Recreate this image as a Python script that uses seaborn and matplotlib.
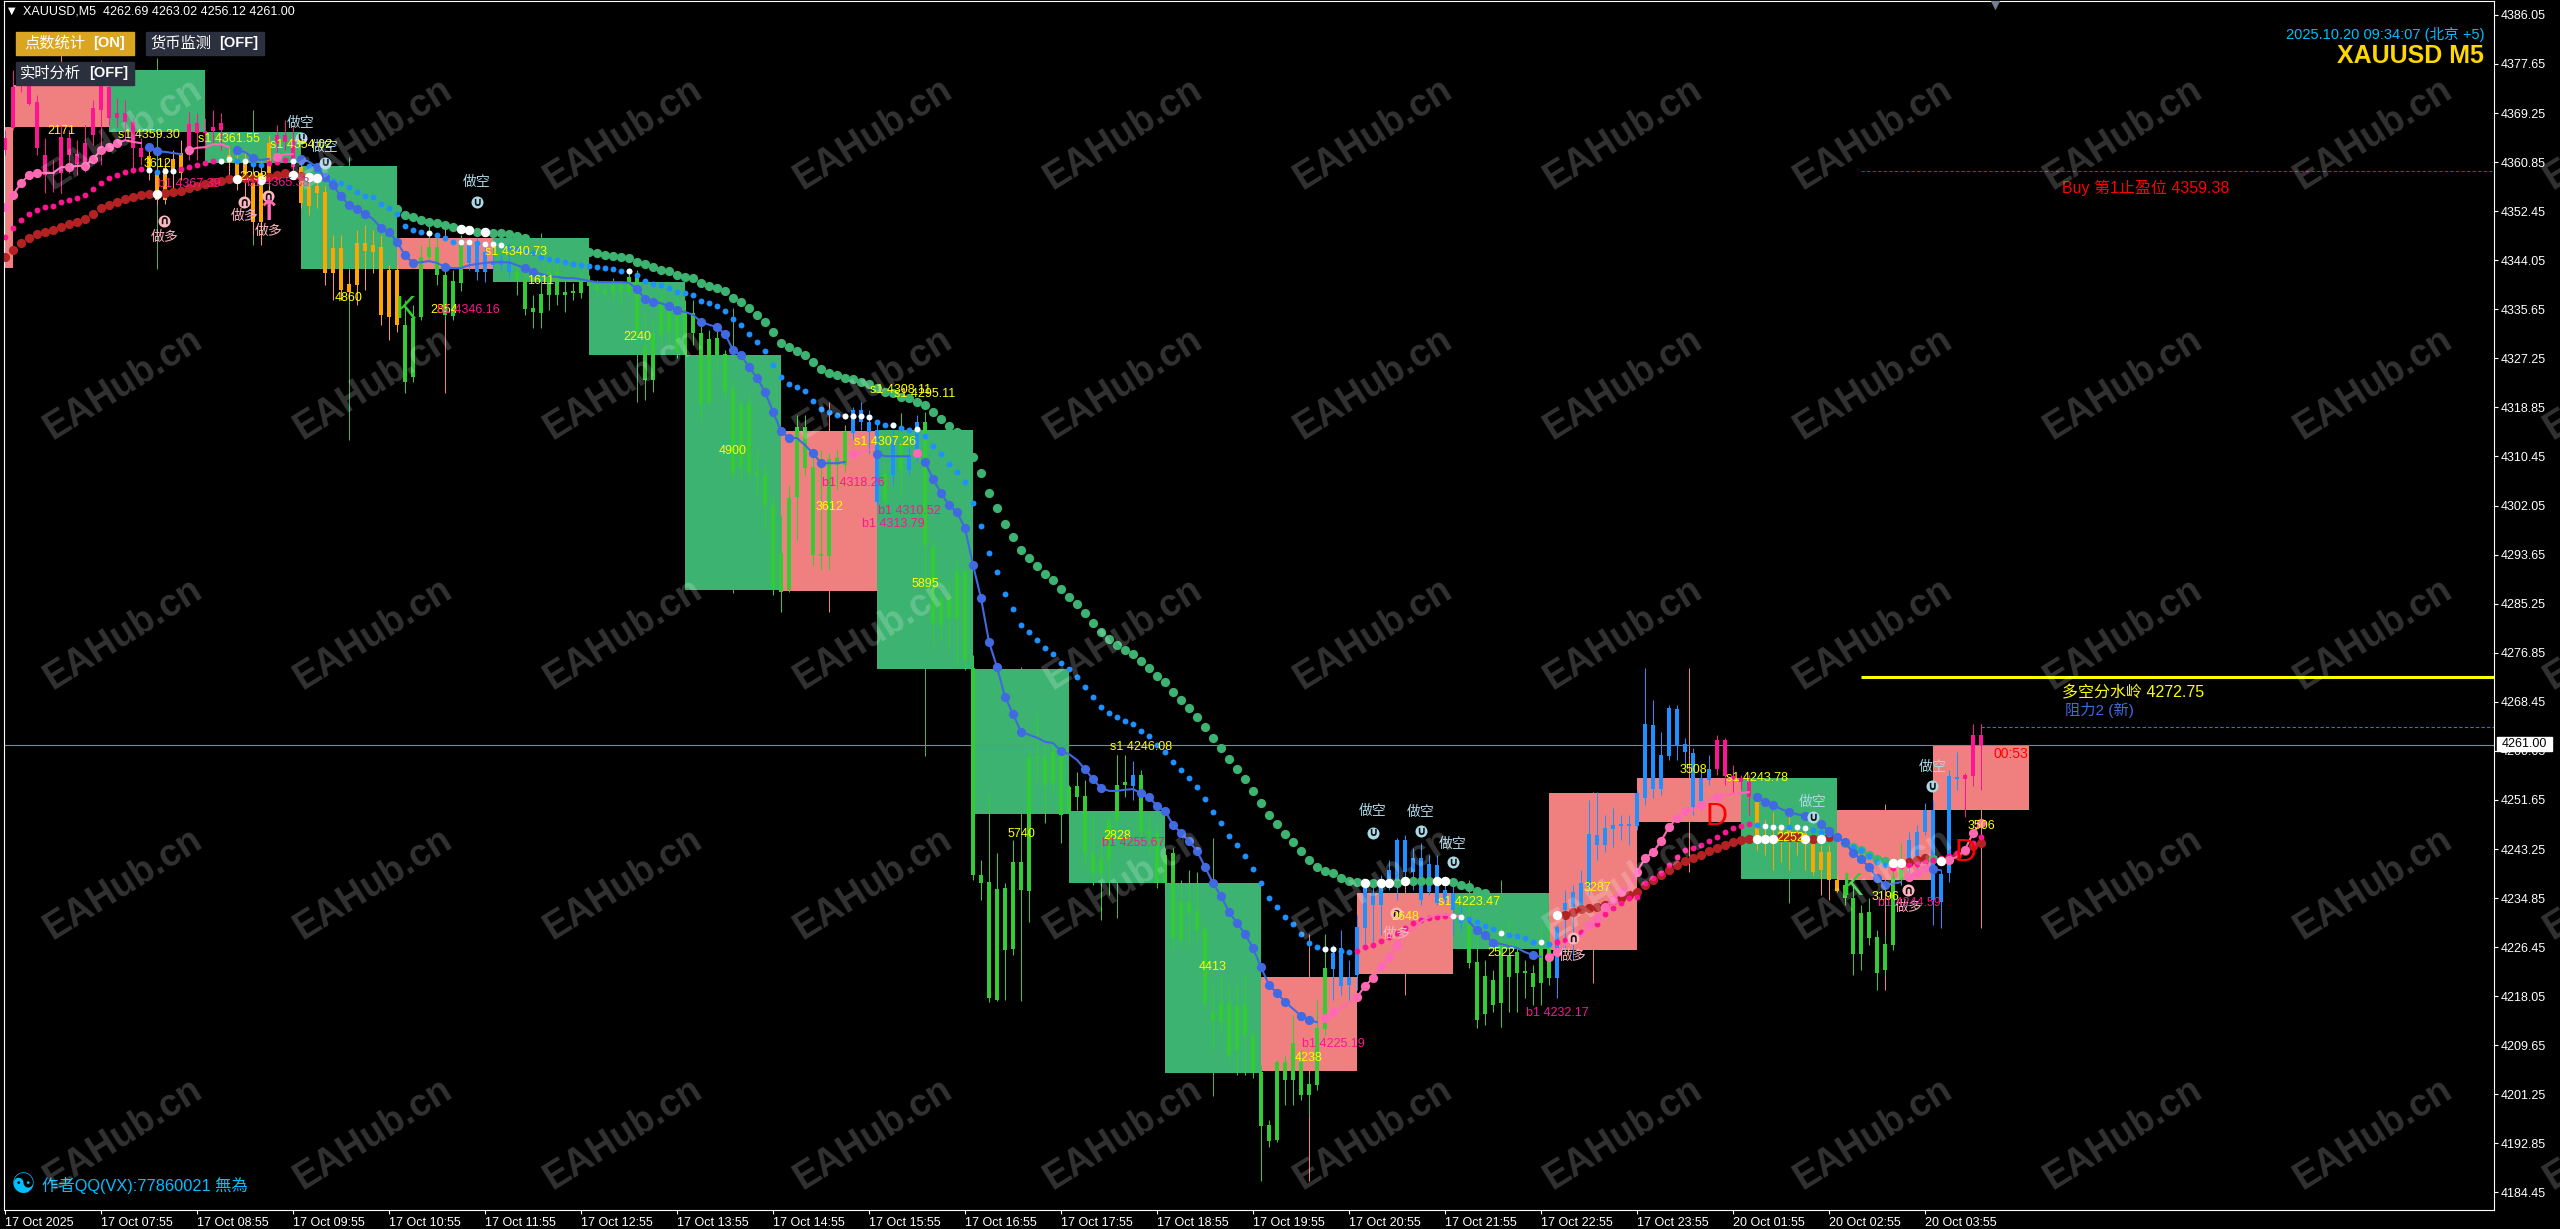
import numpy as np
import matplotlib
matplotlib.use('Agg')
import matplotlib.pyplot as plt
from matplotlib.patches import Rectangle
import seaborn as sns

# candle bodies and wicks, one value per M5 bar
bar_top = [4365.0,4373.7,4375.8,4374.0,4371.1,4362.1,4359.2,4365.1,4365.0,4362.2,
4364.1,4370.1,4374.0,4373.7,4369.3,4369.3,4367.7,4363.3,4361.9,4359.0,
4359.8,4361.4,4362.4,4367.4,4367.5,4366.2,4366.9,4367.5,4362.1,4360.7,
4361.2,4357.3,4359.0,4364.1,4365.5,4365.5,4364.6,4360.0,4356.6,4356.8,
4355.7,4346.1,4346.1,4340.0,4347.0,4347.0,4346.7,4346.3,4342.4,4342.4,
4333.0,4334.2,4344.6,4346.3,4346.3,4341.5,4340.5,4346.7,4346.7,4346.7,
4345.5,4343.7,4344.1,4343.6,4342.0,4340.7,4335.9,4338.3,4342.0,4342.0,
4338.6,4338.6,4340.3,4340.3,4339.8,4338.9,4339.8,4339.8,4341.2,4341.2,
4329.2,4331.6,4336.7,4335.9,4336.4,4335.0,4335.0,4331.6,4330.6,4330.7,
4328.0,4322.0,4319.3,4319.6,4307.8,4307.3,4302.1,4293.9,4303.3,4315.5,
4315.5,4308.6,4293.6,4310.0,4310.2,4314.6,4318.4,4318.4,4316.4,4315.0,
4307.5,4312.8,4312.8,4310.7,4316.4,4316.4,4295.0,4286.2,4286.4,4290.7,
4290.7,4274.2,4238.8,4237.6,4236.4,4236.6,4241.0,4241.0,4258.8,4258.8,
4259.0,4259.9,4259.9,4253.9,4254.0,4252.3,4242.6,4241.5,4248.2,4254.2,
4254.7,4255.9,4255.9,4246.2,4246.0,4242.2,4242.6,4234.2,4234.2,4232.6,
4229.6,4215.2,4216.9,4216.9,4216.4,4216.5,4211.2,4205.1,4196.0,4206.8,
4206.8,4210.0,4206.8,4203.0,4212.6,4222.9,4225.4,4226.3,4221.3,4229.9,
4236.6,4235.7,4236.6,4239.7,4244.8,4244.8,4241.7,4241.7,4240.7,4240.5,
4236.2,4235.7,4232.0,4230.2,4223.9,4221.5,4220.8,4227.2,4225.1,4225.6,
4222.2,4222.0,4226.3,4226.3,4229.9,4234.0,4235.9,4237.4,4245.8,4245.6,
4246.8,4247.4,4247.5,4247.5,4252.8,4264.7,4264.5,4259.3,4267.4,4267.2,
4261.2,4259.7,4255.4,4256.9,4261.9,4261.9,4255.7,4255.4,4254.7,4251.3,
4245.3,4245.6,4246.5,4246.5,4246.2,4246.0,4244.1,4242.7,4242.7,4237.9,
4237.1,4234.9,4232.3,4232.5,4228.2,4227.0,4238.5,4240.0,4244.8,4246.2,
4249.9,4249.9,4239.0,4255.7,4255.6,4255.9,4262.8,4262.8]
bar_bottom = [4362.9,4366.7,4374.0,4370.8,4363.3,4358.6,4358.8,4359.0,4362.1,4360.5,
4360.0,4365.5,4369.8,4368.4,4368.4,4367.7,4363.3,4361.7,4359.0,4354.4,
4354.4,4359.0,4359.0,4362.1,4365.8,4365.8,4366.2,4366.3,4360.7,4358.6,
4358.3,4350.6,4350.6,4359.0,4364.1,4364.3,4360.0,4353.8,4353.3,4355.6,
4341.9,4341.9,4338.9,4338.6,4339.8,4345.6,4345.5,4334.7,4334.3,4333.0,
4323.2,4324.1,4334.3,4344.6,4341.5,4334.7,4334.5,4340.2,4343.6,4342.0,
4342.0,4343.2,4343.2,4342.0,4340.7,4335.7,4335.2,4335.0,4338.1,4338.1,
4338.1,4338.4,4338.4,4339.6,4338.9,4338.4,4338.4,4338.8,4338.6,4331.6,
4323.5,4323.5,4331.2,4331.8,4328.3,4327.8,4331.6,4319.6,4319.8,4327.8,
4321.7,4307.6,4308.6,4307.6,4307.3,4302.1,4287.6,4287.2,4287.6,4303.5,
4308.5,4293.6,4293.4,4293.4,4309.0,4309.0,4314.5,4316.4,4314.6,4302.7,
4302.8,4307.3,4308.1,4308.1,4310.7,4295.3,4281.9,4281.6,4282.8,4282.8,
4275.6,4238.8,4237.4,4217.7,4217.4,4226.0,4226.1,4236.2,4236.1,4258.7,
4254.2,4254.5,4249.1,4249.6,4252.2,4242.6,4239.1,4239.1,4241.4,4248.2,
4254.2,4254.0,4246.2,4246.0,4237.4,4237.4,4228.0,4227.7,4232.3,4229.4,
4216.9,4214.0,4213.6,4208.0,4208.8,4211.4,4204.9,4195.8,4193.3,4193.4,
4203.7,4203.7,4201.1,4201.1,4202.9,4212.4,4222.7,4219.8,4220.0,4221.7,
4229.7,4233.7,4233.7,4237.6,4237.1,4239.3,4239.3,4234.5,4235.9,4234.0,
4234.5,4232.8,4230.6,4223.7,4214.0,4215.0,4216.5,4216.9,4221.3,4222.0,
4222.0,4219.6,4220.3,4221.2,4221.2,4232.8,4233.3,4233.7,4236.6,4243.9,
4243.9,4246.7,4247.2,4247.2,4247.2,4252.0,4253.5,4253.5,4259.2,4260.9,
4259.9,4250.4,4251.1,4255.1,4256.9,4255.7,4255.2,4254.7,4252.2,4245.3,
4244.4,4244.4,4244.4,4245.3,4244.4,4244.3,4239.3,4239.6,4237.9,4236.1,
4234.9,4225.3,4225.3,4228.0,4222.0,4222.5,4226.8,4237.9,4240.8,4241.9,
4246.2,4234.5,4234.2,4239.1,4255.2,4255.2,4255.7,4261.0]
bar_high = [4366.3,4376.6,4376.6,4375.8,4372.3,4365.0,4361.2,4367.2,4366.3,4364.6,
4367.2,4371.5,4378.3,4375.8,4371.8,4371.5,4368.4,4365.0,4362.9,4360.4,
4361.2,4362.9,4364.6,4369.4,4369.3,4368.4,4369.8,4369.3,4363.3,4362.9,
4362.9,4359.5,4361.2,4365.5,4367.2,4368.1,4367.2,4362.1,4358.6,4358.6,
4356.9,4348.4,4348.4,4342.4,4349.2,4350.1,4349.2,4348.4,4343.2,4343.2,
4337.2,4336.4,4346.7,4350.1,4348.4,4343.2,4342.4,4348.4,4347.5,4347.9,
4346.7,4344.9,4344.9,4344.9,4343.6,4342.0,4338.1,4339.8,4343.2,4343.7,
4341.2,4340.1,4341.9,4341.5,4340.7,4340.3,4341.0,4340.3,4342.4,4342.4,
4335.0,4333.8,4338.9,4337.2,4338.1,4337.2,4337.2,4333.0,4332.1,4332.1,
4328.7,4323.5,4320.1,4321.0,4311.6,4309.0,4303.9,4300.4,4305.6,4317.6,
4317.6,4310.7,4311.6,4311.0,4311.6,4315.8,4318.9,4319.8,4318.4,4316.7,
4309.0,4315.0,4317.9,4312.1,4317.6,4318.1,4296.2,4287.6,4289.3,4292.7,
4291.9,4276.5,4241.4,4252.8,4242.6,4237.4,4244.8,4242.2,4260.2,4266.5,
4261.1,4261.9,4261.1,4254.2,4256.4,4255.1,4249.1,4245.6,4249.1,4259.3,
4259.3,4258.3,4256.8,4249.4,4247.4,4243.4,4243.4,4237.9,4239.7,4239.3,
4230.2,4220.0,4221.7,4220.0,4220.0,4221.7,4212.3,4206.3,4196.9,4207.1,
4208.0,4214.8,4208.8,4204.6,4217.4,4228.7,4226.8,4229.4,4224.2,4232.0,
4237.6,4237.1,4238.8,4241.4,4245.1,4245.6,4243.4,4244.3,4242.2,4242.2,
4237.1,4237.9,4233.7,4237.9,4229.4,4224.2,4222.5,4230.2,4231.1,4228.5,
4224.2,4223.4,4230.2,4231.1,4230.2,4236.2,4237.1,4239.7,4251.6,4253.0,
4249.1,4250.3,4249.1,4249.1,4253.4,4274.2,4268.8,4263.3,4267.9,4267.9,
4262.3,4260.5,4256.8,4259.3,4262.8,4262.3,4257.6,4255.9,4255.9,4252.5,
4248.2,4249.6,4247.4,4249.1,4247.4,4246.5,4244.8,4243.9,4243.9,4238.8,
4238.3,4237.1,4233.7,4234.9,4229.4,4228.5,4241.7,4244.3,4246.2,4247.4,
4251.1,4251.6,4239.7,4256.8,4259.9,4256.3,4264.7,4264.7]
bar_low = [4362.1,4366.3,4372.8,4370.6,4362.1,4355.6,4355.7,4355.6,4359.0,4358.6,
4359.2,4363.8,4360.4,4367.2,4366.9,4364.6,4359.0,4360.4,4357.8,4353.5,
4353.7,4356.1,4357.8,4361.2,4361.2,4362.9,4364.1,4362.9,4358.6,4356.1,
4354.4,4348.4,4346.7,4356.1,4360.4,4362.9,4358.6,4353.0,4351.8,4353.0,
4339.8,4337.2,4337.2,4337.2,4336.4,4338.9,4341.9,4333.0,4330.4,4331.8,
4321.3,4323.2,4333.8,4343.7,4339.8,4333.8,4333.8,4338.8,4342.4,4340.7,
4340.3,4342.4,4342.4,4341.0,4338.1,4334.7,4332.4,4332.6,4335.5,4336.4,
4335.2,4337.2,4337.6,4338.9,4338.1,4337.9,4337.2,4336.4,4337.8,4329.5,
4320.1,4321.5,4329.5,4329.5,4327.3,4326.9,4329.5,4316.7,4319.3,4324.9,
4320.1,4306.4,4306.4,4306.4,4303.9,4297.9,4286.7,4283.8,4287.2,4296.2,
4307.3,4291.9,4291.0,4291.0,4304.7,4307.8,4313.3,4315.0,4311.0,4302.1,
4302.1,4305.6,4303.9,4307.3,4309.5,4287.6,4278.2,4279.0,4277.3,4274.7,
4273.9,4237.9,4234.5,4217.1,4217.2,4217.4,4225.1,4217.4,4230.8,4254.7,
4247.7,4252.5,4244.3,4248.6,4249.9,4240.2,4237.1,4231.1,4235.4,4247.4,
4252.2,4251.6,4244.8,4242.6,4236.6,4236.6,4226.3,4226.8,4226.6,4227.7,
4215.7,4208.8,4211.4,4207.1,4204.6,4204.6,4204.0,4186.4,4192.2,4193.1,
4199.4,4199.4,4200.3,4197.7,4202.0,4211.4,4217.4,4218.2,4217.4,4219.1,
4226.0,4226.3,4228.5,4236.2,4234.5,4237.1,4236.2,4233.7,4235.4,4233.7,
4233.7,4228.5,4229.4,4222.9,4212.6,4213.1,4215.3,4212.8,4215.3,4215.3,
4217.7,4216.5,4216.5,4220.0,4217.7,4226.0,4224.2,4232.8,4235.4,4241.4,
4242.7,4243.6,4244.8,4243.9,4246.5,4250.8,4252.0,4252.5,4258.5,4258.5,
4257.1,4249.1,4249.9,4254.2,4255.9,4254.2,4252.8,4253.4,4249.1,4243.1,
4242.2,4239.7,4241.0,4239.7,4242.2,4239.7,4238.8,4235.4,4234.5,4235.9,
4233.7,4221.7,4222.5,4226.8,4219.1,4221.7,4226.0,4237.1,4238.8,4239.7,
4245.6,4230.2,4229.7,4237.6,4253.4,4248.7,4254.0,4253.4]

# the three trend lines, also one value per bar
slow_line = [4344.6,4345.8,4347.0,4347.9,4348.5,4348.9,4349.2,4349.7,4350.3,4350.6,
4351.1,4352.0,4353.0,4353.5,4354.0,4354.5,4354.9,4355.2,4355.4,4355.4,
4355.6,4355.7,4355.9,4356.4,4356.8,4357.1,4357.4,4357.6,4358.0,4358.0,
4358.1,4358.1,4357.8,4358.3,4358.6,4359.0,4358.6,4358.5,4358.3,4358.1,
4357.6,4357.1,4356.6,4356.1,4355.6,4355.0,4354.5,4354.0,4353.5,4352.8,
4351.8,4351.4,4350.9,4350.6,4350.4,4350.1,4349.7,4349.4,4349.2,4348.9,
4348.9,4348.7,4348.7,4348.5,4348.2,4347.9,4347.2,4346.8,4346.5,4346.3,
4346.1,4346.0,4345.8,4345.5,4345.3,4344.9,4344.8,4344.6,4344.4,4343.7,
4343.4,4342.9,4342.4,4342.2,4341.5,4341.2,4341.0,4340.2,4339.6,4339.3,
4338.8,4337.6,4336.9,4335.9,4334.7,4333.5,4331.8,4329.9,4329.2,4328.5,
4327.8,4326.6,4325.4,4324.7,4324.4,4323.9,4323.7,4323.2,4322.9,4322.2,
4321.5,4321.3,4320.6,4320.5,4319.8,4319.3,4318.1,4316.9,4315.7,4314.6,
4313.3,4310.4,4307.6,4304.2,4301.6,4298.9,4296.7,4294.4,4293.1,4291.7,
4290.3,4289.3,4287.8,4286.4,4285.2,4283.7,4281.9,4280.4,4279.2,4278.2,
4277.3,4276.6,4275.4,4274.2,4272.9,4271.8,4270.1,4268.8,4267.4,4265.8,
4264.1,4262.3,4260.5,4258.7,4256.9,4255.2,4253.2,4251.1,4249.1,4247.5,
4245.8,4244.4,4242.9,4241.4,4240.2,4239.5,4239.1,4238.3,4237.8,4237.6,
4237.4,4237.4,4237.4,4237.4,4237.4,4237.8,4237.8,4237.8,4237.8,4237.8,
4237.8,4237.6,4237.1,4236.7,4236.1,4235.7,np.nan,np.nan,np.nan,np.nan,
np.nan,np.nan,np.nan,np.nan,4232.0,4232.0,4232.5,4233.0,4233.2,4233.3,
4233.7,4234.5,4234.9,4235.4,4235.9,4237.1,4237.9,4238.8,4239.6,4240.5,
4241.2,4241.7,4242.2,4242.9,4243.4,4243.9,4244.4,4244.8,4245.0,4245.0,
4245.0,4245.0,4245.3,4245.3,4245.3,4245.0,4245.0,4245.0,4245.3,4245.3,
4244.3,4243.6,4243.1,4242.2,4241.5,4241.2,4240.9,4240.9,4241.0,4241.4,
4241.7,4241.5,4241.2,4241.7,4242.2,4242.9,4243.8,4244.3]
mid_line = [4348.0,4349.6,4350.9,4352.0,4352.6,4353.2,4353.3,4354.0,4354.4,4354.7,
4355.2,4356.2,4357.3,4358.1,4358.6,4359.2,4359.5,4359.7,4359.5,4359.2,
4359.3,4359.3,4359.7,4360.0,4360.4,4360.7,4361.0,4361.0,4361.4,4361.0,
4361.0,4360.5,4360.4,4360.7,4360.9,4361.2,4361.0,4360.9,4360.2,4359.5,
4358.6,4357.6,4357.3,4356.6,4355.7,4355.0,4354.9,4353.7,4353.0,4352.0,
4349.9,4349.2,4348.9,4348.7,4348.4,4347.9,4347.2,4347.2,4347.2,4347.0,
4346.8,4346.8,4346.7,4346.3,4346.0,4345.5,4345.3,4344.6,4344.3,4344.1,
4343.7,4343.4,4343.2,4343.1,4342.9,4342.7,4342.5,4342.2,4342.2,4341.5,
4340.5,4340.0,4339.8,4339.3,4338.6,4338.4,4338.1,4337.1,4336.7,4336.2,
4335.4,4334.0,4333.0,4331.4,4330.0,4328.5,4326.1,4324.1,4322.9,4322.3,
4321.7,4320.0,4318.6,4318.1,4317.6,4317.4,4317.4,4317.4,4317.2,4316.4,
4315.8,4315.8,4315.3,4315.0,4315.2,4314.0,4312.2,4310.9,4309.2,4307.8,
4306.1,4302.5,4298.5,4293.9,4290.7,4286.9,4284.3,4281.6,4280.4,4279.0,
4277.7,4276.6,4275.1,4274.1,4272.7,4271.0,4269.3,4267.6,4266.5,4265.8,
4265.2,4264.7,4263.4,4262.6,4261.0,4259.9,4258.1,4256.8,4255.4,4253.9,
4251.8,4249.6,4247.7,4245.5,4243.9,4242.1,4239.8,4237.4,4234.9,4233.3,
4231.6,4230.4,4228.7,4227.2,4226.5,4226.1,4226.1,4225.8,4225.6,4225.8,
4226.5,4226.8,4227.5,4228.2,4228.9,4229.7,4230.6,4231.1,4231.4,4231.6,
4231.8,4231.8,4231.6,4231.3,4230.8,4230.1,4229.6,4228.9,4228.5,4228.4,
4228.0,4227.3,4227.3,4227.0,4227.3,4227.7,4228.2,4229.0,4230.2,4230.4,
4232.1,4233.2,4234.0,4234.9,4235.0,4237.4,4238.3,4239.1,4240.5,4241.9,
4243.1,4243.4,4243.9,4244.6,4245.3,4246.2,4246.8,4247.2,4247.5,4247.4,
4247.2,4247.0,4247.0,4247.0,4247.0,4246.8,4246.5,4246.2,4245.8,4245.1,
4244.3,4243.6,4243.1,4242.1,4241.0,4240.5,4240.0,4240.3,4240.5,4240.7,
4241.0,4241.4,4241.7,4242.1,4242.6,4243.1,4244.3,4245.3]
fast_line = [4353.2,4355.2,4357.3,4358.6,4359.0,4359.0,4359.0,4360.0,4360.0,4360.2,
4360.2,4361.4,4362.9,4363.4,4364.1,4364.6,4364.3,4364.1,4363.4,4362.7,
4362.6,4362.4,4362.2,4362.9,4363.3,4363.4,4363.9,4363.9,4363.4,4362.9,
4362.6,4361.5,4361.2,4361.4,4361.7,4362.2,4362.2,4361.4,4360.9,4360.0,
4358.3,4356.9,4355.0,4353.5,4352.8,4352.0,4351.1,4349.6,4348.9,4347.2,
4344.9,4343.6,4343.7,4343.9,4343.6,4342.9,4342.7,4342.7,4343.2,4343.4,
4343.6,4343.7,4343.7,4343.7,4343.2,4342.7,4342.0,4341.7,4341.3,4341.2,
4341.0,4341.0,4340.8,4340.5,4340.3,4340.3,4340.3,4340.3,4340.2,4339.1,
4337.4,4336.9,4336.7,4336.2,4335.5,4335.2,4334.7,4333.5,4333.0,4332.6,
4331.4,4328.7,4327.8,4325.8,4323.9,4321.5,4318.1,4314.8,4313.6,4313.6,
4312.4,4311.0,4309.3,4309.3,4309.3,4309.5,4310.9,4311.2,4311.6,4310.9,
4310.5,4310.5,4310.5,4310.5,4311.0,4309.5,4306.6,4304.2,4302.1,4300.9,
4298.2,4291.9,4286.2,4278.7,4274.4,4269.3,4266.4,4263.3,4262.8,4262.3,
4261.6,4261.4,4260.0,4259.5,4258.5,4256.9,4255.2,4253.7,4253.2,4253.2,
4253.4,4253.5,4252.8,4252.2,4250.6,4249.8,4247.4,4246.0,4244.6,4242.9,
4240.2,4237.4,4235.2,4232.5,4230.6,4228.7,4226.3,4223.0,4220.0,4218.6,
4217.1,4215.9,4214.7,4214.0,4213.6,4214.3,4215.3,4216.0,4216.9,4217.9,
4219.8,4221.2,4223.2,4224.8,4226.8,4228.9,4229.4,4230.8,4231.6,4232.0,
4232.0,4231.8,4231.8,4230.8,4229.4,4228.5,4227.2,4227.0,4226.6,4226.3,
4225.6,4225.1,4224.8,4224.8,4225.6,4226.8,4228.2,4228.2,4230.2,4231.4,
4233.3,4234.5,4235.9,4236.6,4239.3,4241.7,4242.7,4244.6,4247.0,4248.6,
4249.8,4249.9,4250.8,4251.6,4252.2,4252.5,4252.7,4252.8,4253.0,4252.2,
4251.3,4250.8,4250.1,4249.6,4249.2,4248.9,4248.6,4247.5,4246.3,4245.3,
4244.4,4242.6,4241.5,4240.2,4238.3,4237.1,4237.3,4237.6,4238.5,4239.1,
4240.0,4239.8,4239.6,4241.4,4241.9,4243.1,4246.0,4247.7]

# trend runs: first bar, last bar, colour key
candle_runs = [(0,17,'pink'),(18,22,'orange'),(23,27,'pink'),(28,33,'orange'),(34,36,'pink'),
    (37,49,'orange'),(50,57,'green'),(58,63,'blue'),(64,105,'green'),(106,109,'blue'),(110,110,'green'),
    (111,111,'blue'),(112,112,'green'),(113,114,'blue'),(115,140,'green'),(141,141,'blue'),(142,165,'green'),
    (166,182,'blue'),(183,193,'green'),(194,213,'blue'),(214,218,'pink'),(219,229,'orange'),(230,237,'green'),
    (238,244,'blue'),(245,247,'pink')]
slow_runs = [(0,37,'red'),(38,185,'green'),(194,228,'red'),(229,237,'green'),(238,240,'red'),(241,241,'green'),(242,247,'red')]
mid_runs = [(0,17,'pink'),(18,21,'blue'),(22,26,'pink'),(27,32,'blue'),(33,35,'pink'),(36,168,'blue'),
    (169,181,'pink'),(182,193,'blue'),(194,218,'pink'),(219,235,'blue'),(236,247,'pink')]
fast_runs = [(0,17,'pink'),(18,22,'blue'),(23,28,'pink'),(29,33,'blue'),(34,36,'pink'),(37,105,'blue'),
    (106,108,'pink'),(109,113,'blue'),(114,114,'pink'),(115,164,'blue'),(165,182,'pink'),(183,192,'blue'),
    (193,218,'pink'),(219,237,'blue'),(238,240,'pink'),(241,242,'blue'),(243,247,'pink')]
fast_dot_bars = [0,1,2,3,4,8,10,11,12,13,14,18,19,23,29,31,34,37,39,40,41,42,43,44,45,47,48,49,50,51,55,65,66,
    79,80,81,83,84,87,89,90,91,92,93,94,95,96,97,98,101,102,106,109,114,115,116,117,118,119,120,121,122,123,124,
    125,126,127,132,135,136,137,142,143,144,145,146,147,148,149,150,151,152,153,154,155,156,157,158,159,160,162,163,
    165,166,169,170,171,172,173,174,184,185,186,191,193,194,196,198,199,200,201,202,204,205,206,207,208,209,210,212,214,
    219,220,221,223,225,227,228,229,230,231,232,233,234,235,238,239,240,241,243,245,246,247]
white_slow_bars = [19,29,32,36,38,39,57,58,60,170,172,173,175,179,180,194,219,220,221,225,227,236,237,242]
white_mid_bars = [18,20,21,27,28,30,36,53,57,58,60,61,62,78,105,106,107,108,111,114,165,166,181,182,187,192,220,221,222,224,225]

# hourly boxes
box_edges = [-11,1,13,25,37,49,61,73,85,97,109,121,133,145,157,169,181,193,204,217,229,241,253]
box_top = [4366.9,4374.0,4376.6,4366.0,4360.2,4347.9,4347.9,4340.3,4327.8,4314.8,4315.0,4274.1,4249.8,4237.4,4221.3,4235.7,4235.7,4252.8,4255.4,4255.4,4249.9,4261.0]
box_bottom = [4342.7,4366.9,4366.0,4360.7,4342.5,4342.5,4340.3,4327.8,4287.6,4287.4,4274.1,4249.2,4237.4,4204.9,4205.2,4221.9,4226.1,4226.0,4247.9,4238.1,4237.9,4249.9]
box_high = [4366.9,4380.0,4378.7,4369.8,4361.7,4349.7,4348.7,4341.2,4335.9,4319.8,4317.9,4274.4,4259.3,4245.1,4228.7,4244.8,4237.9,4253.0,4274.2,4249.4,4251.0,4264.7]
box_low = [4342.7,4355.6,4342.5,4346.7,4313.3,4321.3,4332.4,4319.8,4287.1,4283.8,4259.2,4217.2,4231.4,4201.0,4186.4,4218.3,4212.8,4220.3,4239.3,4234.0,4219.1,4229.7]
box_kind = ['pink','pink','green','green','green','pink','green','green','green','pink','green','green','green','green','pink','pink','green','pink','pink','green','pink','pink']

# labels on the chart: text, bar, price
volume_labels = [('2171',7,4366.2),('3612',19,4360.5),('2298',31,4358.3),('4860',43,4337.6),('2854',54.9,4335.5),('1611',67,4340.5),
    ('2240',79,4330.9),('4900',91,4311.4),('3612',103,4301.8),('5895',115,4288.6),('5740',127,4245.8),('2828',139,4245.5),('4413',151,4223.0),
    ('4238',163,4207.5),('2648',175,4231.6),('2522',187,4225.4),('3287',199,4236.6),('3508',211,4256.8),('2252',223.1,4245.1),('3196',235,4235.0),('3506',247,4247.2)]
s1_labels = [('s1 4359.30',18,4365.5),('s1 4361.55',28,4364.8),('s1 4354.02',37,4363.8),('s1 4340.73',63.9,4345.5),('s1 4308.11',112,4321.8),
    ('s1 4295.11',115,4321.1),('s1 4307.26',110,4312.9),('s1 4246.08',142,4260.7),('s1 4223.47',183,4234.2),('s1 4243.78',219,4255.4)]
b1_labels = [('b1 4367.39',23.1,4357.1),('b1 4365.38',34.1,4357.3),('b1 4346.16',57.9,4335.5),('b1 4318.26',106,4305.9),('b1 4310.52',113,4301.1),
    ('b1 4313.79',111,4298.9),('b1 4255.67',141,4244.3),('b1 4225.19',166,4209.9),('b1 4232.17',194,4215.2),('b1 4244.59',238,4234.0)]
short_bars = [37,40,59,171,177,181,226,240.9]
short_text_price = [4367.5,4363.4,4357.4,4249.8,4249.6,4244.1,4251.3,4257.3]
short_icon_price = [4365.0,4360.7,4354.0,4246.0,4246.3,4241.0,4248.7,4254.0]
long_bars = [19.9,29.9,32.9,173.9,196,237.9]
long_text_price = [4348.0,4351.6,4349.1,4228.7,4224.9,4233.3]
long_icon_price = [4350.8,4354.0,4355.0,4232.3,4228.0,4236.2]
k_marks = [(50.1,4335.5),(231,4236.7)]
d_marks = [(213.9,4248.7),(245.1,4242.6)]

price_ticks = [4386.05,4377.65,4369.25,4360.85,4352.45,4344.05,4335.65,4327.25,4318.85,4310.45,4302.05,4293.65,4285.25,
    4276.85,4268.45,4260.05,4251.65,4243.25,4234.85,4226.45,4218.05,4209.65,4201.25,4192.85,4184.45]
time_ticks = [0,12,24,36,48,60,72,84,96,108,120,132,144,156,168,180,192,204,216,228,240]
time_labels = ['17 Oct 2025','17 Oct 07:55','17 Oct 08:55','17 Oct 09:55','17 Oct 10:55','17 Oct 11:55','17 Oct 12:55','17 Oct 13:55',
    '17 Oct 14:55','17 Oct 15:55','17 Oct 16:55','17 Oct 17:55','17 Oct 18:55','17 Oct 19:55','17 Oct 20:55','17 Oct 21:55','17 Oct 22:55',
    '17 Oct 23:55','20 Oct 01:55','20 Oct 02:55','20 Oct 03:55']

watermark_x = [123,373,623,873,1123,1373,1623,1873,2123,2373,2623]
watermark_y = [134,384,634,884,1134]

candle_colors = {'pink':'#FF1493','orange':'#FFA500','green':'#32CD32','blue':'#1E90FF'}
box_colors = {'pink':'#F08080','green':'#3CB371'}
slow_colors = {'red':'#B22222','green':'#3CB371'}
mid_colors = {'pink':'#FF1493','blue':'#1E90FF'}
fast_colors = {'pink':'#FF69B4','blue':'#4169E1'}

W, H = 2560, 1229
sns.set_theme(style='dark', rc={'axes.facecolor':'black','figure.facecolor':'black','text.color':'white',
    'xtick.color':'white','ytick.color':'white','axes.edgecolor':'white'})
plt.rcParams['font.family'] = ['Liberation Sans','Noto Sans CJK SC','DejaVu Sans']

fig = plt.figure(figsize=(W/100, H/100), dpi=100)
ax = fig.add_axes([4/W, (H-1210)/H, 2490/W, 1209/H])

def fx(px):
    return px/W

def fy(py):
    return 1-py/H

def color_of(bar, runs):
    for start, end, key in runs:
        if start <= bar <= end:
            return key
    return None

# boxes and their high-low lines
for n in range(len(box_top)):
    left = box_edges[n]
    width = box_edges[n+1]-left
    col = box_colors[box_kind[n]]
    ax.bar(left, box_top[n]-box_bottom[n], bottom=box_bottom[n], width=width, align='edge', color=col, linewidth=0, zorder=1, antialiased=False)
    ax.vlines(left+width/2, box_low[n], box_high[n], colors=col, linewidth=0.72, zorder=2)

# candles
bars = np.arange(len(bar_top))
top = np.array(bar_top)
bottom = np.array(bar_bottom)
for start, end, key in candle_runs:
    idx = bars[start:end+1]
    col = candle_colors[key]
    ax.vlines(idx, np.array(bar_low)[idx], np.array(bar_high)[idx], colors=col, linewidth=0.72, zorder=3)
    ax.bar(idx, np.maximum(top[idx]-bottom[idx], 0.35), bottom=bottom[idx], width=0.62, color=col, linewidth=0, zorder=3, antialiased=False)

slow = np.array(slow_line)
mid = np.array(mid_line)
fast = np.array(fast_line)

# trend dots
for start, end, key in slow_runs:
    idx = bars[start:end+1]
    sns.scatterplot(x=idx, y=slow[idx], s=44, color=slow_colors[key], linewidth=0, ax=ax, zorder=4, legend=False)
for start, end, key in mid_runs:
    idx = bars[start:end+1]
    sns.scatterplot(x=idx, y=mid[idx], s=18, color=mid_colors[key], linewidth=0, ax=ax, zorder=5, legend=False)

# fast line with its bigger dots
for start, end, key in fast_runs:
    idx = bars[start:end+1]
    sns.lineplot(x=idx, y=fast[idx], color=fast_colors[key], linewidth=1.5, errorbar=None, ax=ax, zorder=6, legend=False)
for key in fast_colors:
    idx = [b for b in fast_dot_bars if color_of(b, fast_runs) == key]
    sns.scatterplot(x=idx, y=fast[idx], s=44, color=fast_colors[key], linewidth=0, ax=ax, zorder=7, legend=False)

sns.scatterplot(x=white_slow_bars, y=slow[white_slow_bars], s=46, color='white', linewidth=0, ax=ax, zorder=8, legend=False)
sns.scatterplot(x=white_mid_bars, y=mid[white_mid_bars], s=18, color='white', linewidth=0, ax=ax, zorder=8, legend=False)

# level lines
ax.axhline(4261.00, color='#778899', linewidth=0.8, zorder=2)
ax.hlines(4359.38, 232, 311.2, colors='red', linewidth=0.8, linestyles=(0, (3, 2)), zorder=2)
ax.hlines(4272.75, 232, 311.2, colors='yellow', linewidth=2.2, zorder=2)
ax.hlines(4264.1, 247, 311.2, colors='#4169E1', linewidth=0.8, linestyles=(0, (3, 2)), zorder=2)
sns.scatterplot(x=[248.75], y=[4388.0], marker='v', s=70, color='#708090', linewidth=0, ax=ax, zorder=8, legend=False)

# signal icons
sns.scatterplot(x=short_bars, y=short_icon_price, s=75, color='#ADD8E6', linewidth=0, ax=ax, zorder=9, legend=False)
sns.scatterplot(x=long_bars, y=long_icon_price, s=75, color='#FFB6C1', linewidth=0, ax=ax, zorder=9, legend=False)
for b, p in zip(short_bars, short_icon_price):
    ax.text(b, p, '∪', color='#111111', fontsize=8.5, fontweight='bold', family='DejaVu Sans', ha='center', va='center', zorder=10)
for b, p in zip(long_bars, long_icon_price):
    ax.text(b, p, '∩', color='#111111', fontsize=8.5, fontweight='bold', family='DejaVu Sans', ha='center', va='center', zorder=10)
ax.text(32.9, 4352.3, '↑', color='#FF69B4', fontsize=21, fontweight='bold', family='DejaVu Sans', ha='center', va='center', zorder=9)

for b, p in zip(short_bars, short_text_price):
    ax.text(b, p, '做空', color='#ADD8E6', fontsize=10, ha='center', va='center', zorder=10)
for b, p in zip(long_bars, long_text_price):
    ax.text(b, p, '做多', color='#FFB6C1', fontsize=10, ha='center', va='center', zorder=10)
for txt, b, p in volume_labels + s1_labels:
    ax.text(b, p, txt, color='yellow', fontsize=9, ha='center', va='center', zorder=11)
for txt, b, p in b1_labels:
    ax.text(b, p, txt, color='#FF1493', fontsize=9, ha='center', va='center', zorder=11)
for b, p in k_marks:
    ax.text(b, p, 'K', color='#32CD32', fontsize=22, ha='center', va='center', zorder=10)
for b, p in d_marks:
    ax.text(b, p, 'D', color='red', fontsize=22, ha='center', va='center', zorder=10)

ax.text(257.1, 4356.4, 'Buy 第1止盈位 4359.38', color='red', fontsize=11.5, ha='left', va='center', zorder=11)
ax.text(257.1, 4270.0, '多空分水岭 4272.75', color='yellow', fontsize=11.5, ha='left', va='center', zorder=11)
ax.text(257.5, 4267.0, '阻力2 (新)', color='#4169E1', fontsize=11, ha='left', va='center', zorder=11)
ax.text(250.75, 4259.5, '00:53', color='red', fontsize=10, ha='center', va='center', zorder=11)

# axes, right price scale and bottom time scale
ax.set_xlim(-0.125, 311.125)
ax.set_ylim(4181.45, 4388.43)
ax.set_xlabel('')
ax.set_ylabel('')
ax.grid(False)
for side in ['left','right','top','bottom']:
    ax.spines[side].set_visible(True)
    ax.spines[side].set_color('white')
    ax.spines[side].set_linewidth(0.8)
ax.yaxis.tick_right()
ax.set_yticks(price_ticks)
ax.set_yticklabels([f'{p:.2f}' for p in price_ticks], fontsize=9)
ax.set_xticks(time_ticks)
ax.set_xticklabels(time_labels, fontsize=9, ha='left')
ax.tick_params(axis='both', length=3, width=0.8, color='white', pad=2, bottom=True, right=True)

# current price tag
fig.add_artist(Rectangle((fx(2497), fy(751)), 55/W, 14/H, transform=fig.transFigure, color='white', zorder=4))
fig.text(fx(2524), fy(744), '4261.00', color='black', fontsize=9, ha='center', va='center', zorder=5)

# header and terminal panels
fig.text(fx(12), fy(11), '▼', color='white', fontsize=7, family='DejaVu Sans', ha='center', va='center', zorder=5)
fig.text(fx(23), fy(11), 'XAUUSD,M5  4262.69 4263.02 4256.12 4261.00', color='white', fontsize=9, ha='left', va='center', zorder=5)
fig.text(fx(2484), fy(35), '2025.10.20 09:34:07 (北京 +5)', color='#00BFFF', fontsize=10.5, ha='right', va='center', zorder=5)
fig.text(fx(2484), fy(56), 'XAUUSD M5', color='#FFD700', fontsize=18, fontweight='bold', ha='right', va='center', zorder=5)
fig.text(fx(23), fy(1185), '☯', color='#00BFFF', fontsize=20, family='DejaVu Sans', ha='center', va='center', zorder=5)
fig.text(fx(41.5), fy(1185), '作者QQ(VX):77860021 無為', color='#00BFFF', fontsize=11.8, ha='left', va='center', zorder=5)

button_boxes = [(15.5,32,118.5,23,'#DAA520'),(146,32,118,23,'#2B303E'),(15.5,62,118.5,23,'#2B303E')]
button_names = [(24.5,43.5,'点数统计'),(150,43.5,'货币监测'),(20,73.5,'实时分析')]
button_states = [(93,43.5,'[ON]'),(219,43.5,'[OFF]'),(89,73.5,'[OFF]')]
for x, y, w, h, col in button_boxes:
    fig.add_artist(Rectangle((fx(x), fy(y+h)), w/W, h/H, transform=fig.transFigure, color=col, zorder=4))
for x, y, txt in button_names:
    fig.text(fx(x), fy(y), txt, color='white', fontsize=11, ha='left', va='center', zorder=5)
for x, y, txt in button_states:
    fig.text(fx(x), fy(y), txt, color='white', fontsize=10.5, fontweight='bold', ha='left', va='center', zorder=5)

# site watermark on top of everything
for wy in watermark_y:
    for wx in watermark_x:
        fig.text(fx(wx), fy(wy), 'EAHub.cn', color='white', alpha=0.2, fontsize=27, fontweight='bold', rotation=32,
                 ha='center', va='center', zorder=6)

fig.savefig('out.png', dpi=100, facecolor='black')
